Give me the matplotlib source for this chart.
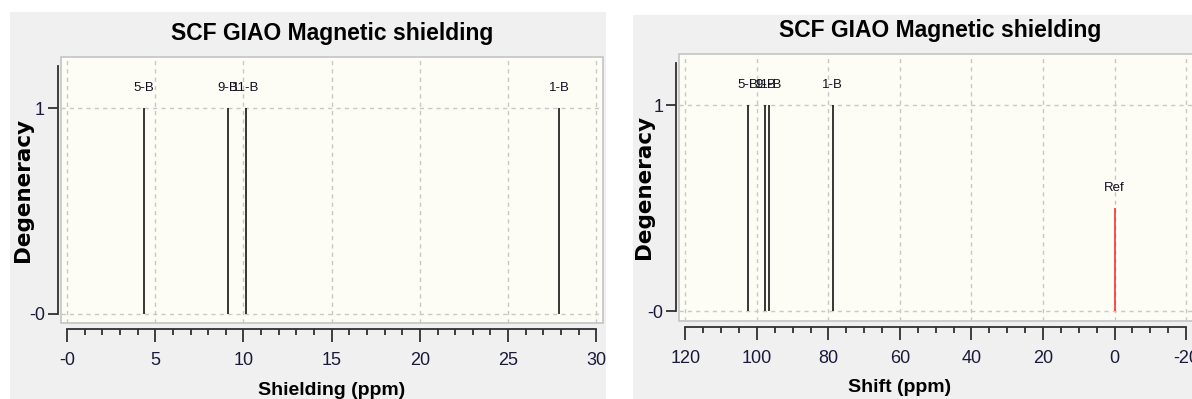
"""Two GIAO shielding stick spectra, side by side."""

import matplotlib.pyplot as plt
from matplotlib.patches import Rectangle
from matplotlib.ticker import MultipleLocator, FixedLocator

# shielding panel
shield_labels = ["5-B", "9-B", "11-B", "1-B"]
shield_ppm = [4.35, 9.13, 10.12, 27.88]
shield_deg = [1, 1, 1, 1]

# shift panel (relative to reference)
shift_labels = ["5-B", "9-B", "11-B", "1-B"]
shift_ppm = [102.5, 97.6, 96.7, 78.8]
shift_deg = [1, 1, 1, 1]
ref_ppm = 0.0
ref_height = 0.5

TITLE = "SCF GIAO Magnetic shielding"
ARIAL = ["Liberation Sans", "DejaVu Sans"]

W, H = 1192, 399
fig = plt.figure(figsize=(W / 100, H / 100), dpi=100)
fig.patch.set_facecolor("white")


def px_rect(x0, y0, x1, y1):
    return [x0 / W, 1 - y1 / H, (x1 - x0) / W, (y1 - y0) / H]


def panel_bg(x0, y0, x1, y1):
    fig.patches.append(Rectangle((x0 / W, 1 - y1 / H), (x1 - x0) / W, (y1 - y0) / H,
                                 transform=fig.transFigure, facecolor="#f0f0f0",
                                 edgecolor="none", zorder=-5))


def style_axes(ax, xlim, xmajor, xminor, xbounds, xlabel, ylab_x):
    ax.set_facecolor("#fdfdf5")
    ax.patch.set_edgecolor("#c4c4c4")
    ax.patch.set_linewidth(1.2)
    ax.set_xlim(*xlim)
    ax.set_ylim(-0.044, 1.25)
    ax.xaxis.set_major_locator(MultipleLocator(xmajor))
    ax.xaxis.set_minor_locator(MultipleLocator(xminor))
    ax.yaxis.set_major_locator(FixedLocator([0, 1]))
    ax.set_yticklabels(["-0", "1"])
    ax.xaxis.set_major_formatter(plt.FuncFormatter(
        lambda v, p: "-0" if abs(v) < 1e-9 and xlim[0] < xlim[1] else f"{v:g}"))
    for side in ("top", "right"):
        ax.spines[side].set_visible(False)
    ax.spines["bottom"].set_position(("outward", 4.5))
    ax.spines["left"].set_position(("outward", 2.2))
    ax.spines["bottom"].set_bounds(*xbounds)
    ax.spines["left"].set_bounds(0, 1.207)
    for side in ("bottom", "left"):
        ax.spines[side].set_color("#303030")
        ax.spines[side].set_linewidth(1.3)
    ax.tick_params(axis="x", which="major", direction="out", length=9.4, width=1.3,
                   color="#303030", pad=7, labelsize=13, labelcolor="#1a1a3a")
    ax.tick_params(axis="x", which="minor", direction="out", length=4.5, width=1.3,
                   color="#303030")
    ax.tick_params(axis="y", direction="out", length=7.2, width=1.3, color="#303030",
                   pad=2, labelsize=13, labelcolor="#1a1a3a")
    for lab in ax.get_xticklabels() + ax.get_yticklabels():
        lab.set_family(ARIAL)
    ax.grid(True, which="major", color="#c8c8c8", linestyle=(0, (3, 3)), linewidth=1)
    ax.set_axisbelow(True)
    ax.set_title(TITLE, family=ARIAL, fontsize=16.5, fontweight="bold", pad=12)
    ax.set_xlabel(xlabel, family=ARIAL, fontsize=14, fontweight="bold", labelpad=9)
    ax.set_ylabel("Degeneracy", family="DejaVu Sans", fontsize=15.5, fontweight="bold")
    ax.yaxis.set_label_coords(ylab_x, 0.5)


def sticks(ax, xs, ys, labels, color="black"):
    ax.vlines(xs, 0, ys, color=color, linewidth=1.1, zorder=3)
    for x, y, t in zip(xs, ys, labels):
        ax.text(x, y + 0.1, t, ha="center", va="center", family=ARIAL,
                fontsize=9.5, color="#101020")


panel_bg(10, 12, 606, 400)
panel_bg(633, 15, 1200, 400)

ax1 = fig.add_axes(px_rect(60.7, 56.7, 603, 323))
style_axes(ax1, (-0.36, 30.38), 5, 1, (0, 30), "Shielding (ppm)",
           (33 - 60.7) / (603 - 60.7))
sticks(ax1, shield_ppm, shield_deg, shield_labels)

ax2 = fig.add_axes(px_rect(679.3, 54, 1200, 320.5))
style_axes(ax2, (121.7, -23.9), 20, 5, (-20, 120), "Shift (ppm)",
           (654 - 679.3) / (1200 - 679.3))
sticks(ax2, shift_ppm, shift_deg, shift_labels)
sticks(ax2, [ref_ppm], [ref_height], ["Ref"], color="#ff2020")
ax2.xaxis.label.set_x((900 - 679.3) / (1200 - 679.3))
ax2.title.set_x((940 - 679.3) / (1200 - 679.3))

fig.savefig("out.png", dpi=100)
plt.close(fig)
